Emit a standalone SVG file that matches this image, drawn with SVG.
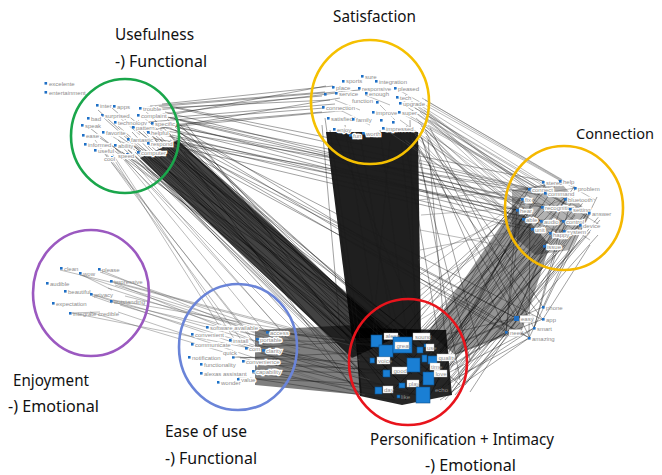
<svg xmlns="http://www.w3.org/2000/svg" width="662" height="475" viewBox="0 0 662 475">
<defs>
<style>
.e{fill:none;stroke:#1a1a1a;stroke-width:0.55;stroke-opacity:0.75}
.ed{fill:none;stroke:#000;stroke-width:0.6;stroke-opacity:0.6}
.eg{fill:none;stroke:#555;stroke-width:0.5;stroke-opacity:0.8}
.band{fill:#000}
.ring{fill:none;stroke-width:2.6}
.d{fill:#1f6fc5}
.t{font-family:"Liberation Sans",Arial,sans-serif;font-size:6px;fill:#8c8c8c}
.tb{font-family:"Liberation Sans",Arial,sans-serif;font-size:6px;fill:#8c8c8c;paint-order:stroke;stroke:#fff;stroke-width:2.4;stroke-linejoin:miter}
.sq{fill:#1a7fd4;stroke:#0d4f8a;stroke-width:0.6}
.lb{fill:#fff;stroke:#bbb;stroke-width:0.4}
.title{font-family:"Noto Sans","Liberation Sans",sans-serif;font-size:17px;fill:#111}
</style>
</defs>
<rect width="662" height="475" fill="#fff"/>
<g id="connectors">
<polygon class="band" opacity="0.74" points="140,158 178,140 395,338 352,358"/>
<polygon class="band" opacity="0.88" points="326,132 418,132 421,338 352,338"/>
<polygon class="band" opacity="0.42" points="515,205 550,245 522,330 455,355 428,332"/>
<polygon class="band" opacity="0.5" points="255,330 355,325 362,395 255,385"/>
<polygon class="band" opacity="0.85" points="355,328 446,330 452,395 402,405 360,396"/>
<polygon class="band" opacity="0.3" points="512,190 560,182 590,215 570,250 535,255 512,235"/>
<path class="e" d="M150,106L325,92M155,110L322,96M160,108L330,100M148,122L324,108M165,118L335,104M170,125L322,112M152,130L340,98M175,114L326,86M140,108L360,90M158,128L350,110M162,104L333,86M146,116L336,93"/>
<path class="e" d="M165,112L520,200M170,118L525,205M175,124L515,215M160,130L530,190M172,135L522,220M168,142L518,210M178,128L540,195M176,108L528,188M150,138L545,205M174,146L520,228M155,122L542,207M162,116L529,189M180,120L522,199M158,134L517,210M170,106L544,181M176,140L531,228M166,128L541,221"/>
<path class="e" d="M175,130L505,330M170,140L516,318M178,148L530,338M168,134L445,370M180,150L440,380M172,152L430,360M176,138L516,318M166,126L543,320M182,144L506,332M171,122L529,338M179,136L460,385"/>
<path class="eg" d="M110,150L235,340M100,148L250,335M120,155L265,332M95,140L245,345M130,158L280,330M105,152L260,350M115,148L290,340M125,160L300,335M112,156L225,335M135,156L310,330"/>
<path class="e" d="M145,150L360,345M150,155L375,360M160,148L385,340M135,152L350,355M170,145L395,350M155,140L380,330M140,160L345,360M165,155L400,370M180,140L390,335M128,150L370,380M120,145L355,370M175,150L405,345M150,160L340,345M185,148L410,360M118,140L335,340M188,142L420,350"/>
<path class="ed" d="M98,110L352,340M104,118L366,352M112,108L378,338M118,126L390,365M126,114L402,342M132,132L362,372M138,120L374,388M144,110L386,334M150,126L398,380M156,136L410,346M162,114L420,368M168,132L356,392M174,118L368,330M180,136L382,356M186,124L394,398M100,138L400,336M108,146L412,374M116,134L424,352M122,152L436,386M130,142L348,362M136,150L360,394M142,138L372,344M148,146L384,378M154,152L396,358M160,140L408,390M166,150L418,338M172,156L430,372M178,144L442,360M184,152L352,334M90,128L364,348"/>
<path class="e" d="M330,130L360,340M345,125L380,350M360,135L395,345M380,130L410,360M400,128L420,340M410,120L415,330M325,118L355,330M390,140L372,345M350,140L400,335M335,135L430,350M322,125L340,330"/>
<path class="eg" d="M405,95L520,200M410,100L530,190M415,108L545,185M420,112L525,210M425,118L560,200M418,122L515,220M428,125L575,210M410,130L540,225M430,105L595,200M422,98L565,182M408,115L585,215M426,130L530,240M415,135L520,245M430,120L600,225M412,110L550,205M420,128L545,250M405,140L525,230M425,100L580,190M400,120L560,235M430,135L590,240M418,104L543,182M424,110L529,189M427,114L522,199M416,118L517,210M421,126L541,221M402,103L563,221M399,112L574,209M397,97L586,212M395,88L559,180M383,128L531,228M406,126L549,232M412,140L543,245M428,112L579,224"/>
<path class="e" d="M420,135L506,332M415,140L516,318M425,130L530,338M410,138L543,320M418,145L460,380M428,140L450,395M412,132L470,360M405,140L440,345M430,128L534,328M422,138L480,350M426,136L543,307"/>
<path class="e" d="M520,200L430,345M530,210L440,360M540,220L420,350M525,230L450,370M545,240L435,385M560,225L445,365M575,215L455,380M590,210L450,395M598,235L460,390M580,240L445,400M565,245L440,375M550,250L425,360M535,245L415,340M520,215L410,345M515,235L430,380M555,200L420,335M570,195L435,355M585,200L455,370M600,215L465,385M545,185L440,340M529,189L445,345M542,207L428,360M563,221L452,388M587,213L470,392M523,219L438,372"/>
<path class="ed" d="M516,209L372,340M521,198L385,350M528,188L398,344M541,206L410,362M540,220L422,376M531,228L380,372M549,232L395,388M543,245L405,400M563,230L432,362M562,220L440,352M574,209L446,368M586,212L450,380M579,224L438,392M522,218L430,395M544,192L420,342M559,180L446,348M574,187L452,360M564,198L436,340M516,240L425,340M530,250L440,350M555,255L450,365M570,250L448,385M590,232L455,395M600,220L460,375M510,230L415,335"/>
<path class="e" d="M520,220L506,332M545,245L516,318M560,230L534,328M580,225L543,307M530,205L529,338M590,245L543,319M575,188L534,328M597,197L529,338M517,210L506,332M565,199L516,318"/>
<path class="eg" d="M515,215L418,260M520,225L420,290M518,240L420,310M525,250L420,230M529,189L418,200M522,199L420,275M516,209L420,180M528,188L419,160M541,206L421,215M531,228L420,250M522,218L421,300M543,245L420,320"/>
<path class="e" d="M516,318L420,360M506,332L430,380M534,328L440,390M529,338L425,395M543,307L445,350M543,319L415,370M516,318L400,345M506,332L410,390M534,328L450,372M529,338L440,400"/>
<path class="e" d="M265,330L370,345M260,340L380,360M270,350L365,375M255,360L385,390M262,370L375,395M250,378L395,400M275,332L400,350M258,345L410,380M245,348L360,385M268,365L390,370M240,358L372,352M252,373L420,395M267,332L350,338M263,350L345,365M246,348L380,340M256,339L395,345M233,357L370,362M243,361L408,372M253,371L383,373M238,378L399,385M230,340L416,395"/>
<path class="eg" d="M112,282L350,345M115,285L360,360M113,300L345,340M120,305L370,380M95,295L355,370M112,302L340,355M108,288L300,350M80,275L280,340M100,272L330,352M72,313L310,360M90,312L350,390M118,312L365,395M125,296L300,340M100,270L260,335M115,283L265,345M111,281L330,338M91,294L320,372"/>
<path class="eg" d="M142,116L158,130M120,118L140,135M130,125L150,140M110,135L135,150M122,142L150,152M140,128L160,148M335,100L360,110M365,95L390,105M340,110L370,125M380,105L395,120M60,270L110,282M82,275L112,290M92,296L112,303M72,313L100,312M529,189L560,181M542,207L565,199M523,219L563,221M517,210L541,221M531,228L563,230M545,193L575,188M522,199L541,206"/>
</g>
<g id="ellipses">
<ellipse class="ring" cx="125" cy="136" rx="54" ry="57" stroke="#1aa64b"/>
<ellipse class="ring" cx="370" cy="102" rx="59" ry="62" stroke="#f5c000"/>
<ellipse class="ring" cx="564" cy="208" rx="59" ry="62" stroke="#f5b800"/>
<ellipse class="ring" cx="91" cy="293" rx="58" ry="63" stroke="#9b59c0"/>
<ellipse class="ring" cx="238" cy="347" rx="59" ry="63" stroke="#6a84d8"/>
<ellipse class="ring" cx="408" cy="362" rx="59" ry="63" stroke="#e8141c"/>
</g>
<g id="usefulness-nodes">
<g id="n-excelente"><rect class="d" x="44.5" y="82" width="2.6" height="2.6"/><text class="t" x="49" y="85.5">excelente</text></g>
<g id="n-entertainment"><rect class="d" x="44.5" y="91" width="2.6" height="2.6"/><text class="t" x="49" y="94.5">entertainment</text></g>
<g id="n-inter"><rect class="d" x="96" y="104" width="2.6" height="2.6"/><text class="tb" x="100" y="107.5">inter</text></g>
<g id="n-apps"><rect class="d" x="113" y="105" width="2.6" height="2.6"/><text class="tb" x="117" y="108.5">apps</text></g>
<g id="n-trouble"><rect class="d" x="139" y="107" width="2.6" height="2.6"/><text class="tb" x="143" y="110.5">trouble</text></g>
<g id="n-surprised"><rect class="d" x="101" y="114" width="2.6" height="2.6"/><text class="tb" x="105" y="117.5">surprised</text></g>
<g id="n-complaint"><rect class="d" x="137" y="114" width="2.6" height="2.6"/><text class="tb" x="141" y="117.5">complaint</text></g>
<g id="n-bad"><rect class="d" x="87" y="117" width="2.6" height="2.6"/><text class="tb" x="91" y="120.5">bad</text></g>
<g id="n-technology"><rect class="d" x="114" y="121" width="2.6" height="2.6"/><text class="tb" x="118" y="124.5">technology</text></g>
<g id="n-specific"><rect class="d" x="151" y="122" width="2.6" height="2.6"/><text class="tb" x="155" y="125.5">specific</text></g>
<g id="n-speak"><rect class="d" x="81" y="124" width="2.6" height="2.6"/><text class="tb" x="85" y="127.5">speak</text></g>
<g id="n-pattern"><rect class="d" x="132" y="126" width="2.6" height="2.6"/><text class="tb" x="136" y="129.5">pattern</text></g>
<g id="n-favorite"><rect class="d" x="102" y="131" width="2.6" height="2.6"/><text class="tb" x="106" y="134.5">favorite</text></g>
<g id="n-helpful"><rect class="d" x="147" y="131" width="2.6" height="2.6"/><text class="tb" x="151" y="134.5">helpful</text></g>
<g id="n-ease"><rect class="d" x="82" y="134" width="2.6" height="2.6"/><text class="tb" x="86" y="137.5">ease</text></g>
<g id="n-fantastic"><rect class="d" x="127" y="138" width="2.6" height="2.6"/><text class="tb" x="131" y="141.5">fantastic</text></g>
<g id="n-respond"><rect class="d" x="147" y="142" width="2.6" height="2.6"/><text class="tb" x="151" y="145.5">respond</text></g>
<g id="n-informed"><rect class="d" x="84" y="143" width="2.6" height="2.6"/><text class="tb" x="88" y="146.5">informed</text></g>
<g id="n-ability"><rect class="d" x="114" y="144" width="2.6" height="2.6"/><text class="tb" x="118" y="147.5">ability</text></g>
<g id="n-useful"><rect class="d" x="94" y="149" width="2.6" height="2.6"/><text class="tb" x="98" y="152.5">useful</text></g>
<g id="n-computer"><rect class="d" x="137" y="151" width="2.6" height="2.6"/><text class="tb" x="141" y="154.5">computer</text></g>
<g id="n-speed"><rect class="d" x="126" y="153" width="2.6" height="2.6"/><text class="tb" x="118" y="157.5">speed</text></g>
<g id="n-cool"><rect class="d" x="111" y="156" width="2.6" height="2.6"/><text class="tb" x="104" y="160.5">cool</text></g>
</g>
<g id="satisfaction-nodes">
<g id="n-sports"><rect class="d" x="342" y="80" width="2.6" height="2.6"/><text class="tb" x="346" y="83">sports</text></g>
<g id="n-sure"><rect class="d" x="361" y="75" width="2.6" height="2.6"/><text class="tb" x="365" y="78.5">sure</text></g>
<g id="n-integration"><rect class="d" x="375" y="80" width="2.6" height="2.6"/><text class="tb" x="379" y="83.5">integration</text></g>
<g id="n-place"><rect class="d" x="332" y="86" width="2.6" height="2.6"/><text class="tb" x="336" y="89.5">place</text></g>
<g id="n-responsive"><rect class="d" x="358" y="87" width="2.6" height="2.6"/><text class="tb" x="362" y="90.5">responsive</text></g>
<g id="n-pleased"><rect class="d" x="394" y="87" width="2.6" height="2.6"/><text class="tb" x="398" y="90.5">pleased</text></g>
<g id="n-service"><rect class="d" x="335" y="92" width="2.6" height="2.6"/><text class="tb" x="339" y="96">service</text></g>
<g id="n-enough"><rect class="d" x="365" y="92" width="2.6" height="2.6"/><text class="tb" x="369" y="96">enough</text></g>
<g id="n-s1"><rect class="d" x="324" y="93" width="2.6" height="2.6"/></g>
<g id="n-tech"><rect class="d" x="396" y="96" width="2.6" height="2.6"/><text class="tb" x="400" y="99.5">tech</text></g>
<g id="n-function"><rect class="d" x="376" y="101" width="2.6" height="2.6"/><text class="tb" x="352" y="103">function</text></g>
<g id="n-upgrade"><rect class="d" x="399" y="102" width="2.6" height="2.6"/><text class="tb" x="403" y="105.5">upgrade</text></g>
<g id="n-connection"><rect class="d" x="322" y="106" width="2.6" height="2.6"/><text class="tb" x="326" y="109.5">connection</text></g>
<g id="n-improve"><rect class="d" x="372" y="111" width="2.6" height="2.6"/><text class="tb" x="376" y="114.5">improve</text></g>
<g id="n-super"><rect class="d" x="398" y="111" width="2.6" height="2.6"/><text class="tb" x="402" y="114.5">super</text></g>
<g id="n-satisfied"><rect class="d" x="327" y="117" width="2.6" height="2.6"/><text class="tb" x="331" y="120.5">satisfied</text></g>
<g id="n-family"><rect class="d" x="352" y="118" width="2.6" height="2.6"/><text class="tb" x="356" y="121.5">family</text></g>
<g id="n-s2"><rect class="d" x="380" y="119" width="2.6" height="2.6"/></g>
<g id="n-s3"><rect class="d" x="392" y="121" width="2.6" height="2.6"/></g>
<g id="n-impressed"><rect class="d" x="382" y="127" width="2.6" height="2.6"/><text class="tb" x="386" y="130.5">impressed</text></g>
<g id="n-enjoy"><rect class="d" x="333" y="128" width="2.6" height="2.6"/><text class="tb" x="337" y="131.5">enjoy</text></g>
<g id="n-worth"><rect class="d" x="362" y="132" width="2.6" height="2.6"/><text class="tb" x="366" y="135.5">worth</text></g>
<g id="n-fun"><rect class="d" x="349" y="134" width="2.6" height="2.6"/><text class="tb" x="353" y="137.5">fun</text></g>
</g>
<g id="connection-nodes">
<g id="n-stereo"><rect class="d" x="542" y="181" width="2.6" height="2.6"/><text class="tb" x="546" y="184.5">stereo</text></g>
<g id="n-help"><rect class="d" x="559" y="180" width="2.6" height="2.6"/><text class="tb" x="563" y="183.5">help</text></g>
<g id="n-problem"><rect class="d" x="574" y="187" width="2.6" height="2.6"/><text class="tb" x="578" y="190.5">problem</text></g>
<g id="n-connect"><rect class="d" x="528" y="188" width="2.6" height="2.6"/><text class="tb" x="532" y="191.5">connect</text></g>
<g id="n-command"><rect class="d" x="544" y="192" width="2.6" height="2.6"/><text class="tb" x="548" y="195.5">command</text></g>
<g id="n-bluetooth"><rect class="d" x="564" y="198" width="2.6" height="2.6"/><text class="tb" x="568" y="201.5">bluetooth</text></g>
<g id="n-fix"><rect class="d" x="521" y="198" width="2.6" height="2.6"/><text class="tb" x="525" y="201.5">fix</text></g>
<g id="n-recognition"><rect class="d" x="541" y="206" width="2.6" height="2.6"/><text class="tb" x="545" y="209.5">recognition</text></g>
<g id="n-hear"><rect class="d" x="516" y="209" width="2.6" height="2.6"/><text class="tb" x="520" y="212.5">hear</text></g>
<g id="n-setting"><rect class="d" x="569" y="208" width="2.6" height="2.6"/><text class="tb" x="573" y="211.5">setting</text></g>
<g id="n-answer"><rect class="d" x="588" y="212" width="2.6" height="2.6"/><text class="tb" x="592" y="216">answer</text></g>
<g id="n-able"><rect class="d" x="522" y="218" width="2.6" height="2.6"/><text class="tb" x="526" y="221.5">able</text></g>
<g id="n-audio"><rect class="d" x="540" y="220" width="2.6" height="2.6"/><text class="tb" x="544" y="223.5">audio</text></g>
<g id="n-control"><rect class="d" x="562" y="220" width="2.6" height="2.6"/><text class="tb" x="566" y="223.5">control</text></g>
<g id="n-device"><rect class="d" x="579" y="224" width="2.6" height="2.6"/><text class="tb" x="583" y="227.5">device</text></g>
<g id="n-unit"><rect class="d" x="531" y="228" width="2.6" height="2.6"/><text class="tb" x="535" y="231.5">unit</text></g>
<g id="n-system"><rect class="d" x="563" y="230" width="2.6" height="2.6"/><text class="tb" x="567" y="233.5">system</text></g>
<g id="n-happy"><rect class="d" x="549" y="232" width="2.6" height="2.6"/><text class="tb" x="553" y="237">happy</text></g>
<g id="n-issue"><rect class="d" x="543" y="245" width="2.6" height="2.6"/><text class="tb" x="547" y="248.5">issue</text></g>
</g>
<g id="enjoyment-nodes">
<g id="n-clean"><rect class="d" x="60" y="267" width="2.6" height="2.6"/><text class="t" x="64" y="270.5">clean</text></g>
<g id="n-wow"><rect class="d" x="79" y="272" width="2.6" height="2.6"/><text class="t" x="83" y="275.5">wow</text></g>
<g id="n-please"><rect class="d" x="98" y="268" width="2.6" height="2.6"/><text class="t" x="102" y="271.5">please</text></g>
<g id="n-impressive"><rect class="d" x="110" y="280" width="2.6" height="2.6"/><text class="t" x="114" y="283.5">impressive</text></g>
<g id="n-audible"><rect class="d" x="46" y="282" width="2.6" height="2.6"/><text class="t" x="50" y="285.5">audible</text></g>
<g id="n-beautiful"><rect class="d" x="64" y="290" width="2.6" height="2.6"/><text class="t" x="68" y="293.5">beautiful</text></g>
<g id="n-privacy"><rect class="d" x="90" y="293" width="2.6" height="2.6"/><text class="t" x="94" y="296.5">privacy</text></g>
<g id="n-outstanding"><rect class="d" x="110" y="300" width="2.6" height="2.6"/><text class="t" x="114" y="303.5">outstanding</text></g>
<g id="n-expectation"><rect class="d" x="52" y="302" width="2.6" height="2.6"/><text class="t" x="56" y="305.5">expectation</text></g>
<g id="n-integrate"><rect class="d" x="69" y="312" width="2.6" height="2.6"/><text class="t" x="73" y="315.5">integrate credible</text></g>
</g>
<g id="ease-nodes">
<g id="n-software"><rect class="d" x="206" y="326" width="2.6" height="2.6"/><text class="tb" x="210" y="329.5">software available</text></g>
<g id="n-access"><rect class="d" x="266" y="331" width="2.6" height="2.6"/><text class="tb" x="270" y="334.5">access</text></g>
<g id="n-convenient"><rect class="d" x="191" y="333" width="2.6" height="2.6"/><text class="tb" x="195" y="336.5">convenient</text></g>
<g id="n-portable"><rect class="d" x="256" y="338" width="2.6" height="2.6"/><text class="tb" x="260" y="341.5">portable</text></g>
<g id="n-install"><rect class="d" x="229" y="339" width="2.6" height="2.6"/><text class="tb" x="233" y="342.5">install</text></g>
<g id="n-communicate"><rect class="d" x="191" y="343" width="2.6" height="2.6"/><text class="tb" x="195" y="346.5">communicate</text></g>
<g id="n-com"><rect class="d" x="245" y="347" width="2.6" height="2.6"/><text class="tb" x="249" y="350.5">com</text></g>
<g id="n-clarity"><rect class="d" x="262" y="349" width="2.6" height="2.6"/><text class="tb" x="266" y="352.5">clarity</text></g>
<g id="n-notification"><rect class="d" x="188" y="356" width="2.6" height="2.6"/><text class="tb" x="192" y="359.5">notification</text></g>
<g id="n-quick"><rect class="d" x="232" y="356" width="2.6" height="2.6"/><text class="tb" x="223" y="355">quick</text></g>
<g id="n-convenience"><rect class="d" x="242" y="360" width="2.6" height="2.6"/><text class="tb" x="246" y="363.5">convenience</text></g>
<g id="n-functionality"><rect class="d" x="200" y="363" width="2.6" height="2.6"/><text class="tb" x="204" y="366.5">functionality</text></g>
<g id="n-alexas"><rect class="d" x="200" y="372" width="2.6" height="2.6"/><text class="tb" x="204" y="375.5">alexas assistant</text></g>
<g id="n-capability"><rect class="d" x="252" y="370" width="2.6" height="2.6"/><text class="tb" x="256" y="373.5">capability</text></g>
<g id="n-value"><rect class="d" x="237" y="378" width="2.6" height="2.6"/><text class="tb" x="241" y="382">value</text></g>
<g id="n-wonder"><rect class="d" x="217" y="381" width="2.6" height="2.6"/><text class="tb" x="221" y="385">wonder</text></g>
</g>
<g id="personification-nodes">
<g id="n-alexa"><rect class="sq" x="371" y="335" width="11" height="12"/><rect class="lb" x="384" y="333" width="14" height="6.5"/><text class="t" x="385.5" y="338.3">alexa</text></g>
<g id="n-great"><rect class="sq" x="379" y="345" width="14" height="12"/><rect class="sq" x="393" y="337" width="19" height="16"/><rect class="lb" x="395" y="342" width="14" height="7"/><text class="t" x="396.5" y="347.5">great</text></g>
<g id="n-sound"><rect class="lb" x="413" y="333" width="17" height="7"/><text class="t" x="415" y="338.5">sound</text></g>
<g id="n-use"><rect class="sq" x="417" y="347" width="6" height="6"/><rect class="sq" x="424" y="344" width="3" height="3"/><rect class="lb" x="426" y="344" width="8" height="7"/><text class="t" x="427" y="349.5">use</text></g>
<g id="n-voice"><rect class="sq" x="370" y="358" width="4.5" height="5"/><rect class="lb" x="377" y="357" width="13" height="7"/><text class="t" x="378" y="362.5">voice</text></g>
<g id="n-big1"><rect class="sq" x="407" y="358" width="13" height="14"/><rect class="sq" x="422" y="355" width="5" height="7"/></g>
<g id="n-quality"><rect class="sq" x="428" y="356" width="9" height="8"/><rect class="lb" x="437" y="354" width="18" height="7"/><text class="t" x="438.5" y="359.5">quality</text></g>
<g id="n-time"><rect class="lb" x="430" y="363" width="10" height="7"/><text class="t" x="431" y="368.5">time</text></g>
<g id="n-good"><rect class="sq" x="383" y="370" width="7" height="7"/><rect class="lb" x="392" y="367" width="15" height="7"/><text class="t" x="393.5" y="372.5">good</text></g>
<g id="n-love"><rect class="sq" x="423" y="372" width="11" height="13"/><rect class="lb" x="434" y="370" width="13" height="7"/><text class="t" x="435.5" y="375.5">love</text></g>
<g id="n-play"><rect class="sq" x="399" y="383" width="6" height="5"/><rect class="lb" x="407" y="380" width="12" height="7"/><text class="t" x="408.5" y="385.5">play</text></g>
<g id="n-echo"><rect class="sq" x="416" y="387" width="14" height="16"/><text class="t" x="435" y="392">echo</text></g>
<g id="n-day"><rect class="sq" x="375" y="387" width="7" height="7"/><rect class="lb" x="383" y="386" width="10" height="7"/><text class="t" x="384" y="391.5">day</text></g>
<g id="n-like"><rect class="sq" x="397" y="395" width="3" height="3"/><text class="t" x="401" y="398.5">like</text></g>
</g>
<g id="extra-nodes">
<g id="n-phone"><rect class="d" x="542" y="306" width="2.6" height="2.6"/><text class="t" x="546" y="309.5">phone</text></g>
<g id="n-easy"><rect class="d" x="514" y="316" width="5" height="5"/><rect class="lb" x="520" y="315.5" width="13" height="7"/><text class="t" x="521" y="321">easy</text></g>
<g id="n-app"><rect class="d" x="542" y="318" width="2.6" height="2.6"/><text class="t" x="546" y="321.5">app</text></g>
<g id="n-smart"><rect class="d" x="533" y="327" width="2.6" height="2.6"/><text class="t" x="537" y="330.5">smart</text></g>
<g id="n-need"><rect class="d" x="505" y="331" width="2.6" height="2.6"/><rect class="lb" x="509" y="329.5" width="12" height="7"/><text class="t" x="510" y="335">need</text></g>
<g id="n-amazing"><rect class="d" x="528" y="337" width="2.6" height="2.6"/><text class="t" x="532" y="340.5">amazing</text></g>
</g>
<g id="titles">
<text class="title" x="115" y="40" textLength="79" lengthAdjust="spacingAndGlyphs">Usefulness</text>
<text class="title" x="115" y="67" textLength="92" lengthAdjust="spacingAndGlyphs">-) Functional</text>
<text class="title" x="333" y="22" textLength="83" lengthAdjust="spacingAndGlyphs">Satisfaction</text>
<text class="title" x="576" y="139" textLength="78" lengthAdjust="spacingAndGlyphs" style="font-size:15px">Connection</text>
<text class="title" x="13" y="386" textLength="76" lengthAdjust="spacingAndGlyphs">Enjoyment</text>
<text class="title" x="8" y="412" textLength="91" lengthAdjust="spacingAndGlyphs">-) Emotional</text>
<text class="title" x="165" y="437" textLength="82" lengthAdjust="spacingAndGlyphs">Ease of use</text>
<text class="title" x="165" y="464" textLength="92" lengthAdjust="spacingAndGlyphs">-) Functional</text>
<text class="title" x="370" y="445" textLength="184" lengthAdjust="spacingAndGlyphs">Personification + Intimacy</text>
<text class="title" x="425" y="471" textLength="91" lengthAdjust="spacingAndGlyphs">-) Emotional</text>
</g>
</svg>
